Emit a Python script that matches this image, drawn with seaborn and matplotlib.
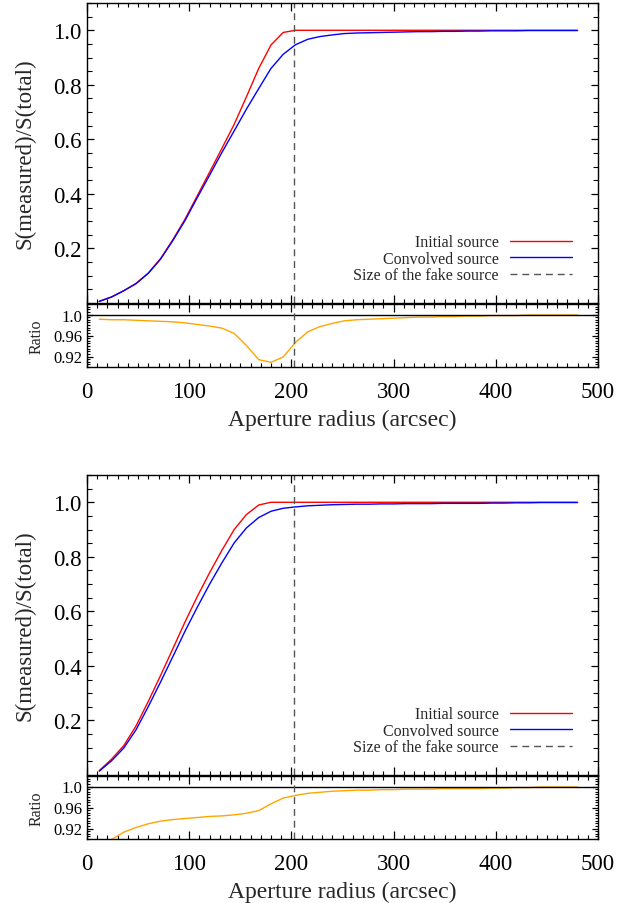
import numpy as np
import pandas as pd
import seaborn as sns
import matplotlib.pyplot as plt
from matplotlib.ticker import MultipleLocator, FixedLocator, FixedFormatter

# Aperture radii (arcsec)
radius = [12, 24, 36, 48, 60, 72, 84, 96, 108, 120,
          132, 144, 156, 168, 180, 192, 204, 216, 228, 240,
          252, 264, 276, 288, 300, 312, 324, 336, 348, 360,
          372, 384, 396, 408, 420, 432, 444, 456, 468, 480]

# Upper panel
top_initial = [0.006, 0.022, 0.045, 0.072, 0.110, 0.163, 0.232, 0.308, 0.394, 0.480,
               0.567, 0.655, 0.756, 0.860, 0.946, 0.992, 1.000, 1.000, 1.000, 1.000,
               1.000, 1.000, 1.000, 1.000, 1.000, 1.000, 1.000, 1.000, 1.000, 1.000,
               1.000, 1.000, 1.000, 1.000, 1.000, 1.000, 1.000, 1.000, 1.000, 1.000]
top_convolved = [0.006, 0.022, 0.045, 0.071, 0.109, 0.161, 0.229, 0.303, 0.387, 0.469,
                 0.552, 0.631, 0.711, 0.786, 0.860, 0.912, 0.947, 0.967, 0.977, 0.983,
                 0.988, 0.990, 0.991, 0.992, 0.993, 0.994, 0.995, 0.995, 0.996, 0.996,
                 0.997, 0.997, 0.998, 0.998, 0.998, 0.999, 0.999, 0.999, 0.999, 0.999]
top_ratio = [0.991, 0.990, 0.990, 0.989, 0.988, 0.987, 0.986, 0.984, 0.981, 0.978,
             0.974, 0.964, 0.941, 0.914, 0.909, 0.919, 0.947, 0.967, 0.977, 0.983,
             0.988, 0.990, 0.991, 0.992, 0.993, 0.994, 0.995, 0.995, 0.996, 0.996,
             0.997, 0.997, 0.998, 0.998, 0.998, 0.999, 0.999, 0.999, 0.999, 0.999]

# Lower panel
bot_initial = [0.016, 0.058, 0.108, 0.180, 0.270, 0.365, 0.463, 0.562, 0.655, 0.742,
               0.824, 0.900, 0.955, 0.990, 1.000, 1.000, 1.000, 1.000, 1.000, 1.000,
               1.000, 1.000, 1.000, 1.000, 1.000, 1.000, 1.000, 1.000, 1.000, 1.000,
               1.000, 1.000, 1.000, 1.000, 1.000, 1.000, 1.000, 1.000, 1.000, 1.000]
bot_convolved = [0.014, 0.052, 0.099, 0.166, 0.251, 0.341, 0.434, 0.528, 0.616, 0.700,
                 0.778, 0.851, 0.906, 0.944, 0.967, 0.978, 0.983, 0.987, 0.989, 0.991,
                 0.992, 0.993, 0.993, 0.994, 0.994, 0.995, 0.995, 0.995, 0.996, 0.996,
                 0.996, 0.996, 0.997, 0.997, 0.998, 0.998, 0.999, 0.999, 0.999, 0.999]
bot_ratio = [0.885, 0.899, 0.913, 0.922, 0.929, 0.934, 0.937, 0.939, 0.941, 0.943,
             0.944, 0.946, 0.949, 0.954, 0.967, 0.978, 0.983, 0.987, 0.989, 0.991,
             0.992, 0.993, 0.993, 0.994, 0.994, 0.995, 0.995, 0.995, 0.996, 0.996,
             0.996, 0.996, 0.997, 0.997, 0.998, 0.998, 0.999, 0.999, 0.999, 0.999]

fake_size = 203

sns.set_style("ticks")
plt.rcParams['font.family'] = ['Liberation Serif', 'DejaVu Serif']
plt.rcParams['axes.linewidth'] = 1.0

W, H = 637, 904
fig = plt.figure(figsize=(W / 100, H / 100), dpi=100)


def box(left, top, right, bottom):
    return [left / W, 1 - bottom / H, (right - left) / W, (bottom - top) / H]


def style_ticks(ax, ymaj, ymin):
    ax.tick_params(which='both', direction='in', top=True, right=True, colors='black')
    ax.tick_params(axis='x', which='major', length=6, width=0.9)
    ax.tick_params(axis='x', which='minor', length=3, width=0.8)
    ax.tick_params(axis='y', which='major', length=ymaj, width=0.9)
    ax.tick_params(axis='y', which='minor', length=ymin, width=0.8)
    for s in ax.spines.values():
        s.set_visible(True)
        s.set_color('black')


def panel(top_px, initial, convolved, ratio):
    ax = fig.add_axes(box(87, top_px, 598, top_px + 300))
    rax = fig.add_axes(box(87, top_px + 301, 598, top_px + 364))

    df = pd.DataFrame({'r': radius, 'init': initial, 'conv': convolved, 'ratio': ratio})
    sns.lineplot(data=df, x='r', y='init', ax=ax, color='red', lw=1.0, label='Initial source')
    sns.lineplot(data=df, x='r', y='conv', ax=ax, color='blue', lw=1.0, label='Convolved source')
    ax.axvline(fake_size, color='#555555', lw=1.0, dashes=(5, 3.5), label='Size of the fake source')

    ax.set_xlim(0, 500)
    ax.set_ylim(0, 1.1)
    ax.yaxis.set_major_locator(FixedLocator([0.2, 0.4, 0.6, 0.8, 1.0]))
    ax.yaxis.set_major_formatter(FixedFormatter(['0.2', '0.4', '0.6', '0.8', '1.0']))
    ax.yaxis.set_minor_locator(MultipleLocator(0.05))
    ax.xaxis.set_major_locator(MultipleLocator(100))
    ax.xaxis.set_minor_locator(MultipleLocator(10))
    ax.set_xticklabels([])
    ax.set_xlabel('')
    ax.set_ylabel('S(measured)/S(total)', fontsize=16.5)
    ax.yaxis.set_label_coords(-0.100, 0.5)
    style_ticks(ax, 5, 3.5)
    ax.tick_params(axis='y', labelsize=16.5, pad=4)

    ax.legend(loc='lower right', bbox_to_anchor=(0.949, 0.066), frameon=False,
              markerfirst=False, fontsize=11.5, handlelength=3.9,
              handletextpad=0.7, labelspacing=0.025, borderpad=0, borderaxespad=0)

    sns.lineplot(data=df, x='r', y='ratio', ax=rax, color='#FFA500', lw=1.0)
    rax.axhline(1.0, color='black', lw=1.0)
    rax.axvline(fake_size, color='#555555', lw=1.0, dashes=(5, 3.5))
    rax.set_xlim(0, 500)
    rax.set_ylim(0.9, 1.02)
    rax.yaxis.set_major_locator(FixedLocator([0.92, 0.96, 1.0]))
    rax.yaxis.set_major_formatter(FixedFormatter(['0.92', '0.96', '1.0']))
    rax.yaxis.set_minor_locator(MultipleLocator(0.005))
    rax.xaxis.set_major_locator(MultipleLocator(100))
    rax.xaxis.set_minor_locator(MultipleLocator(10))
    style_ticks(rax, 4, 2)
    rax.tick_params(axis='y', labelsize=12, pad=3)
    rax.tick_params(axis='x', labelsize=16.5, pad=10)
    rax.set_ylabel('Ratio', fontsize=11.5)
    rax.yaxis.set_label_coords(-0.083, 0.5)
    rax.set_xlabel('Aperture radius (arcsec)', fontsize=17, labelpad=5)


panel(4, top_initial, top_convolved, top_ratio)
panel(476, bot_initial, bot_convolved, bot_ratio)

fig.savefig('out.png', dpi=100)
